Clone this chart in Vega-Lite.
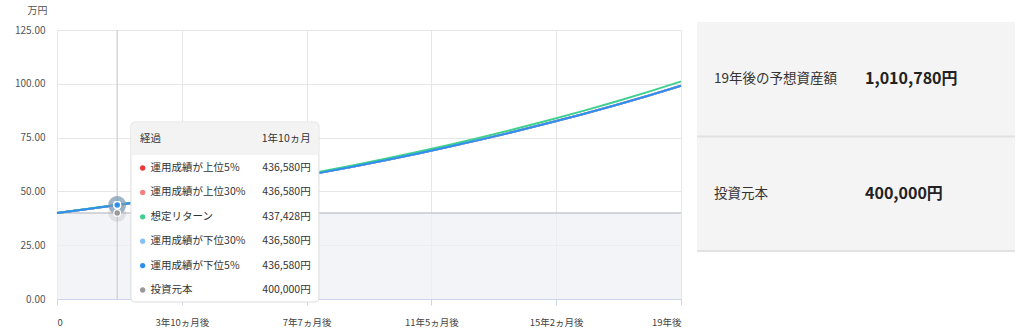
{
  "$schema": "https://vega.github.io/schema/vega-lite/v6.json",
  "padding": {"left": 14, "top": 5, "right": 5, "bottom": 5},
  "background": "white",
  "config": {
    "font": "Noto Sans CJK JP",
    "view": {"stroke": null},
    "concat": {"spacing": 11},
    "axisY": {"gridColor": "#e6e6e6", "domain": false, "ticks": false, "labelColor": "#555", "labelFontSize": 10, "labelPadding": 12},
    "axisX": {"gridColor": "#e6e6e6", "domainColor": "#ccd6eb", "tickColor": "#ccd6eb", "tickSize": 6, "labelColor": "#444", "labelFontSize": 9.5, "labelPadding": 12}
  },
  "datasets": {
    "growth": [
      {"m": 0, "u5": 40, "u30": 40, "exp": 40, "d30": 40, "d5": 40, "p": 40},
      {"m": 12, "u5": 41.956, "u30": 41.956, "exp": 42.0, "d30": 41.956, "d5": 41.956, "p": 40},
      {"m": 22, "u5": 43.658, "u30": 43.658, "exp": 43.743, "d30": 43.658, "d5": 43.658, "p": 40},
      {"m": 24, "u5": 44.008, "u30": 44.008, "exp": 44.1, "d30": 44.008, "d5": 44.008, "p": 40},
      {"m": 36, "u5": 46.16, "u30": 46.16, "exp": 46.305, "d30": 46.16, "d5": 46.16, "p": 40},
      {"m": 48, "u5": 48.417, "u30": 48.417, "exp": 48.62, "d30": 48.417, "d5": 48.417, "p": 40},
      {"m": 60, "u5": 50.784, "u30": 50.784, "exp": 51.051, "d30": 50.784, "d5": 50.784, "p": 40},
      {"m": 72, "u5": 53.268, "u30": 53.268, "exp": 53.604, "d30": 53.268, "d5": 53.268, "p": 40},
      {"m": 84, "u5": 55.872, "u30": 55.872, "exp": 56.284, "d30": 55.872, "d5": 55.872, "p": 40},
      {"m": 96, "u5": 58.605, "u30": 58.605, "exp": 59.098, "d30": 58.605, "d5": 58.605, "p": 40},
      {"m": 108, "u5": 61.47, "u30": 61.47, "exp": 62.053, "d30": 61.47, "d5": 61.47, "p": 40},
      {"m": 120, "u5": 64.476, "u30": 64.476, "exp": 65.156, "d30": 64.476, "d5": 64.476, "p": 40},
      {"m": 132, "u5": 67.629, "u30": 67.629, "exp": 68.414, "d30": 67.629, "d5": 67.629, "p": 40},
      {"m": 144, "u5": 70.936, "u30": 70.936, "exp": 71.834, "d30": 70.936, "d5": 70.936, "p": 40},
      {"m": 156, "u5": 74.405, "u30": 74.405, "exp": 75.426, "d30": 74.405, "d5": 74.405, "p": 40},
      {"m": 168, "u5": 78.044, "u30": 78.044, "exp": 79.197, "d30": 78.044, "d5": 78.044, "p": 40},
      {"m": 180, "u5": 81.86, "u30": 81.86, "exp": 83.157, "d30": 81.86, "d5": 81.86, "p": 40},
      {"m": 192, "u5": 85.863, "u30": 85.863, "exp": 87.315, "d30": 85.863, "d5": 85.863, "p": 40},
      {"m": 204, "u5": 90.062, "u30": 90.062, "exp": 91.681, "d30": 90.062, "d5": 90.062, "p": 40},
      {"m": 216, "u5": 94.466, "u30": 94.466, "exp": 96.265, "d30": 94.466, "d5": 94.466, "p": 40},
      {"m": 228, "u5": 99.085, "u30": 99.085, "exp": 101.078, "d30": 99.085, "d5": 99.085, "p": 40}
    ],
    "tip": [
      {"key": "u5", "item": "運用成績が上位5%", "amount": "436,580円"},
      {"key": "u30", "item": "運用成績が上位30%", "amount": "436,580円"},
      {"key": "exp", "item": "想定リターン", "amount": "437,428円"},
      {"key": "d30", "item": "運用成績が下位30%", "amount": "436,580円"},
      {"key": "d5", "item": "運用成績が下位5%", "amount": "436,580円"},
      {"key": "p", "item": "投資元本", "amount": "400,000円"}
    ],
    "tiphead": [{"label": "経過", "elapsed": "1年10ヵ月"}],
    "panel": [
      {"item": "19年後の予想資産額", "amount": "1,010,780円"},
      {"item": "投資元本", "amount": "400,000円"}
    ]
  },
  "hconcat": [
    {
      "width": 624,
      "height": 269,
      "resolve": {"scale": {"y": "independent"}},
      "layer": [
        {
          "layer": [
            {
              "data": {"name": "growth"},
              "mark": {"type": "area", "color": "#edf0f5", "line": {"color": "#c6c9cf", "strokeWidth": 1.5}},
              "encoding": {
                "x": {"field": "m", "type": "quantitative", "title": null,
                  "scale": {"domain": [0, 228], "nice": false, "zero": false},
                  "axis": {"values": [0, 45.6, 91.2, 136.8, 182.4, 228], "labelFlush": true,
                    "labelExpr": "datum.value == 0 ? '0' : (floor(round(datum.value) / 12) + '年' + (round(datum.value) % 12 > 0 ? (round(datum.value) % 12) + 'ヵ月後' : '後'))"}},
                "y": {"field": "p", "type": "quantitative", "title": "万円",
                  "scale": {"domain": [0, 125], "nice": false},
                  "axis": {"values": [0, 25, 50, 75, 100, 125], "format": ".2f",
                    "titleAngle": 0, "titleX": -20, "titleY": -20, "titleAlign": "center", "titleBaseline": "middle",
                    "titleFontWeight": "normal", "titleFontSize": 10, "titleColor": "#555"}}
              }
            },
            {
              "data": {"values": [{}]},
              "mark": {"type": "rule", "color": "#d6d6d6", "strokeWidth": 1.5},
              "encoding": {"x": {"datum": 22, "type": "quantitative"}}
            },
            {
              "data": {"name": "growth"},
              "transform": [{"fold": ["u5", "u30", "d30", "exp", "d5"], "as": ["key", "value"]}],
              "mark": {"type": "line", "strokeWidth": 2, "interpolate": "monotone"},
              "encoding": {
                "x": {"field": "m", "type": "quantitative", "title": null},
                "y": {"field": "value", "type": "quantitative", "title": "万円"},
                "color": {"field": "key", "type": "nominal", "legend": null,
                  "scale": {"domain": ["u5", "u30", "exp", "d30", "d5", "p"], "range": ["#f03a3a", "#f77f7f", "#3fcf8e", "#86c1f5", "#2f8ff0", "#999999"]}}
              }
            },
            {
              "data": {"name": "growth"},
              "transform": [{"fold": ["p", "u5", "u30", "d30", "exp", "d5"], "as": ["key", "value"]}, {"filter": "datum.m === 22"}],
              "mark": {"type": "circle", "size": 320, "opacity": 0.22},
              "encoding": {
                "x": {"field": "m", "type": "quantitative"},
                "y": {"field": "value", "type": "quantitative"},
                "color": {"field": "key", "type": "nominal", "legend": null}
              }
            },
            {
              "data": {"name": "growth"},
              "transform": [{"fold": ["p", "u5", "u30", "d30", "exp", "d5"], "as": ["key", "value"]}, {"filter": "datum.m === 22"}],
              "mark": {"type": "circle", "size": 45, "opacity": 1, "stroke": "white", "strokeWidth": 1.2},
              "encoding": {
                "x": {"field": "m", "type": "quantitative"},
                "y": {"field": "value", "type": "quantitative"},
                "color": {"field": "key", "type": "nominal", "legend": null}
              }
            },
            {
              "data": {"values": [{}]},
              "mark": {"type": "rect", "fill": "white", "stroke": "#dcdcdc", "strokeWidth": 1, "cornerRadius": 4},
              "encoding": {
                "x": {"datum": 27, "type": "quantitative"}, "x2": {"datum": 95.7},
                "y": {"datum": 82.2, "type": "quantitative"}, "y2": {"datum": -1.4}
              }
            },
            {
              "data": {"values": [{}]},
              "mark": {"type": "rect", "fill": "#f3f3f3", "cornerRadiusTopLeft": 4, "cornerRadiusTopRight": 4},
              "encoding": {
                "x": {"datum": 27.2, "type": "quantitative"}, "x2": {"datum": 95.5},
                "y": {"datum": 82.0, "type": "quantitative"}, "y2": {"datum": 66.9}
              }
            },
            {
              "data": {"name": "tiphead"},
              "mark": {"type": "text", "align": "left", "baseline": "middle", "fontSize": 10.5, "color": "#333"},
              "encoding": {
                "x": {"datum": 30.3, "type": "quantitative"},
                "y": {"datum": 74.3, "type": "quantitative"},
                "text": {"field": "label"}
              }
            },
            {
              "data": {"name": "tiphead"},
              "mark": {"type": "text", "align": "right", "baseline": "middle", "fontSize": 10.5, "color": "#333"},
              "encoding": {
                "x": {"datum": 92.7, "type": "quantitative"},
                "y": {"datum": 74.3, "type": "quantitative"},
                "text": {"field": "elapsed"}
              }
            }
          ]
        },
        {
          "data": {"name": "tip"},
          "encoding": {
            "y": {"field": "item", "type": "nominal", "sort": null, "axis": null,
              "scale": {"type": "point", "range": [138, 260], "padding": 0}}
          },
          "layer": [
            {
              "mark": {"type": "circle", "size": 28, "opacity": 1},
              "encoding": {
                "x": {"datum": 31.3, "type": "quantitative"},
                "color": {"field": "key", "type": "nominal", "legend": null}
              }
            },
            {
              "mark": {"type": "text", "align": "left", "baseline": "middle", "fontSize": 10.5, "color": "#333"},
              "encoding": {
                "x": {"datum": 34.2, "type": "quantitative"},
                "text": {"field": "item"}
              }
            },
            {
              "mark": {"type": "text", "align": "right", "baseline": "middle", "fontSize": 10.5, "color": "#333"},
              "encoding": {
                "x": {"datum": 92.7, "type": "quantitative"},
                "text": {"field": "amount"}
              }
            }
          ]
        }
      ]
    },
    {
      "width": 318,
      "height": 221,
      "data": {"name": "panel"},
      "encoding": {
        "y": {"field": "item", "type": "nominal", "sort": null, "axis": null,
          "scale": {"type": "band", "paddingInner": 0, "paddingOuter": 0, "range": [-8, 221]}}
      },
      "layer": [
        {"mark": {"type": "rect", "color": "#f4f4f4"}},
        {
          "mark": {"type": "rule", "color": "#e2e2e2", "strokeWidth": 2},
          "encoding": {"y": {"field": "item", "type": "nominal", "sort": null, "bandPosition": 1}}
        },
        {
          "transform": [{"fold": ["item", "amount"], "as": ["col", "txt"]}, {"filter": "datum.col === 'item'"}],
          "mark": {"type": "text", "align": "left", "baseline": "middle", "fontSize": 13.5, "color": "#333"},
          "encoding": {
            "x": {"field": "col", "type": "nominal", "axis": null,
              "scale": {"type": "point", "domain": ["item", "amount"], "padding": 0.553, "align": 0.102}},
            "text": {"field": "txt"}
          }
        },
        {
          "transform": [{"fold": ["item", "amount"], "as": ["col", "txt"]}, {"filter": "datum.col === 'amount'"}],
          "mark": {"type": "text", "align": "left", "baseline": "middle", "fontSize": 16, "fontWeight": "bold", "color": "#222"},
          "encoding": {
            "x": {"field": "col", "type": "nominal", "axis": null},
            "text": {"field": "txt"}
          }
        }
      ]
    }
  ]
}
